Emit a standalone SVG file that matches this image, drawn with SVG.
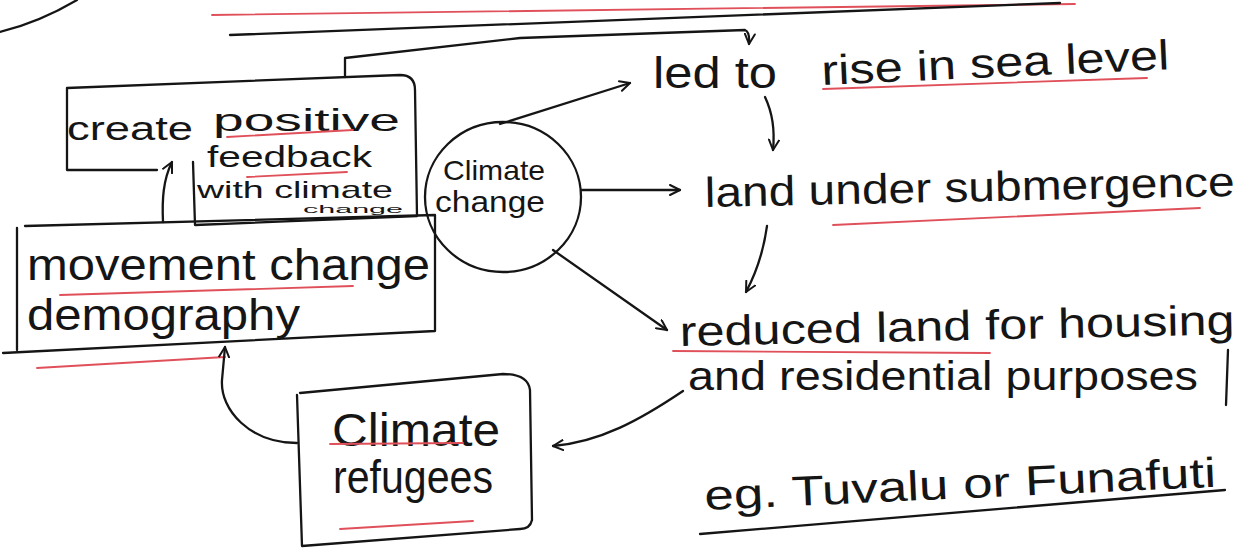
<svg xmlns="http://www.w3.org/2000/svg" width="1237" height="549" viewBox="0 0 1237 549">
<defs>
<style>
.ink{fill:none;stroke:#151515;stroke-width:2.3;stroke-linecap:round;stroke-linejoin:round}
.red{fill:none;stroke:#e0505a;stroke-width:1.8;stroke-linecap:round}
.t{font-family:"Liberation Sans","Noto Sans",sans-serif;fill:#151515}
</style>
<marker id="ah" viewBox="0 0 12 12" refX="11" refY="6" markerWidth="12" markerHeight="12" markerUnits="userSpaceOnUse" orient="auto">
<path d="M1,1 L11,6 L1,11" fill="none" stroke="#151515" stroke-width="2" stroke-linecap="round" stroke-linejoin="round"/>
</marker>
</defs>
<rect width="1237" height="549" fill="#ffffff"/>

<g id="page-marks">
<path class="ink" d="M0,32 Q40,22 77,0"/>
<path class="red" d="M212,15 L1075,4"/>
<path class="ink" d="M230,35 L1060,3"/>
</g>

<g id="node-create">
<path class="ink" d="M157,170 L67,170 L67,88 L400,75 Q415,75 415,90 L417,216 L195,225 L193,162"/>
<text class="t" x="67" y="140" font-size="34" textLength="126" lengthAdjust="spacingAndGlyphs">create</text>
<text class="t" x="213" y="131" font-size="32" textLength="187" lengthAdjust="spacingAndGlyphs">positive</text>
<text class="t" x="207" y="167" font-size="29" textLength="165" lengthAdjust="spacingAndGlyphs">feedback</text>
<text class="t" x="197" y="198" font-size="24" textLength="196" lengthAdjust="spacingAndGlyphs">with climate</text>
<text class="t" x="303" y="213" font-size="11" textLength="100" lengthAdjust="spacingAndGlyphs">change</text>
<path class="red" d="M227,137 L353,130"/>
<path class="red" d="M247,177 L347,172"/>
</g>

<g id="node-movement">
<path class="ink" d="M25,226 L435,215 L435,331 L3,353"/>
<path class="ink" d="M17,228 L17,350"/>
<text class="t" x="27" y="280" font-size="44" textLength="403" lengthAdjust="spacingAndGlyphs">movement change</text>
<text class="t" x="27" y="330" font-size="44" textLength="273" lengthAdjust="spacingAndGlyphs">demography</text>
<path class="red" d="M60,295 L353,286"/>
<path class="red" d="M37,368 L225,357"/>
</g>

<g id="node-climate-change">
<ellipse class="ink" cx="503" cy="197" rx="78" ry="75"/>
<text class="t" x="443" y="180" font-size="28" textLength="102" lengthAdjust="spacingAndGlyphs">Climate</text>
<text class="t" x="435" y="212" font-size="30" textLength="110" lengthAdjust="spacingAndGlyphs">change</text>
</g>

<g id="node-sea-level">
<text class="t" x="653" y="88" font-size="44" textLength="124" lengthAdjust="spacingAndGlyphs">led to</text>
<text class="t" x="822" y="85" font-size="42" textLength="348" lengthAdjust="spacingAndGlyphs" transform="rotate(-2.6 822 85)">rise in sea level</text>
<path class="red" d="M823,89 L1147,78"/>
</g>

<g id="node-land">
<text class="t" x="705" y="207" font-size="42" textLength="530" lengthAdjust="spacingAndGlyphs" transform="rotate(-1.2 705 207)">land under submergence</text>
<path class="red" d="M833,225 L1200,208"/>
</g>

<g id="node-reduced">
<text class="t" x="680" y="346" font-size="42" textLength="555" lengthAdjust="spacingAndGlyphs" transform="rotate(-1.2 680 346)">reduced land for housing</text>
<text class="t" x="688" y="390" font-size="40" textLength="510" lengthAdjust="spacingAndGlyphs">and residential purposes</text>
<path class="ink" d="M1228,350 L1226,405"/>
<path class="red" d="M673,351 L990,353"/>
</g>

<g id="node-refugees">
<path class="ink" d="M300,393 L503,374 Q528,374 530,390 L532,520 Q530,529 520,529 L302,546 L297,395"/>
<text class="t" x="332" y="446" font-size="46" textLength="168" lengthAdjust="spacingAndGlyphs">Climate</text>
<text class="t" x="333" y="493" font-size="46" textLength="160" lengthAdjust="spacingAndGlyphs">refugees</text>
<path class="red" d="M330,444 L463,443"/>
<path class="red" d="M340,529 L473,521"/>
</g>

<g id="node-example">
<text class="t" x="705" y="510" font-size="42" textLength="512" lengthAdjust="spacingAndGlyphs" transform="rotate(-2.6 705 510)">eg. Tuvalu or Funafuti</text>
<path class="ink" d="M700,534 L1225,490"/>
</g>

<g id="connectors">
<path class="ink" d="M345,77 L345,58 L520,38 L745,30 Q750,32 749,44" marker-end="url(#ah)"/>
<path class="ink" d="M500,124 L630,83" marker-end="url(#ah)"/>
<path class="ink" d="M765,97 Q776,120 773,150" marker-end="url(#ah)"/>
<path class="ink" d="M582,190 L680,190" marker-end="url(#ah)"/>
<path class="ink" d="M767,226 Q762,262 746,292" marker-end="url(#ah)"/>
<path class="ink" d="M553,250 L667,330" marker-end="url(#ah)"/>
<path class="ink" d="M683,391 C640,420 600,442 553,446" marker-end="url(#ah)"/>
<path class="ink" d="M297,443 C250,443 220,410 222,380 L225,347" marker-end="url(#ah)"/>
<path class="ink" d="M163,222 C162,200 163,180 172,162" marker-end="url(#ah)"/>
</g>
</svg>
